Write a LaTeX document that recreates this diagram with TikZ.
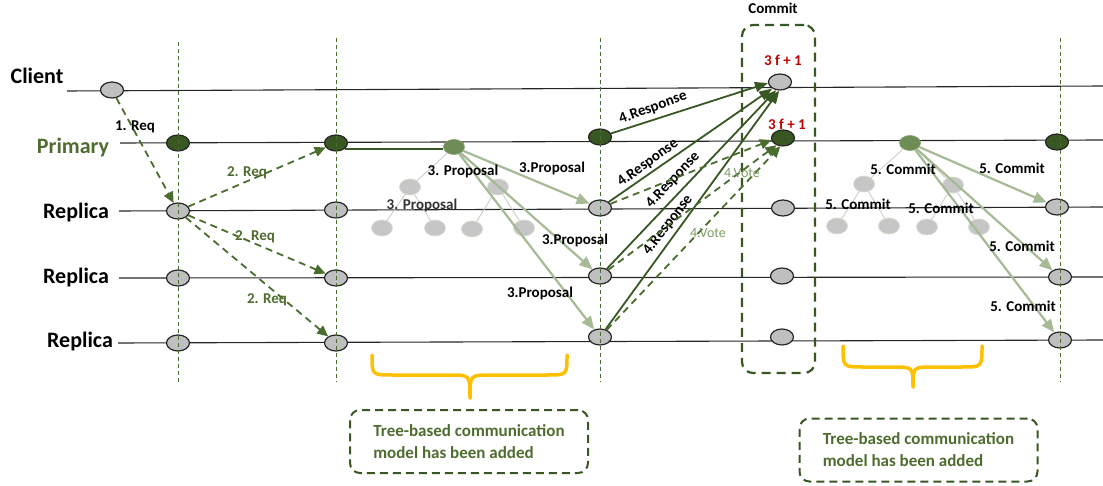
\documentclass[tikz,border=0pt]{standalone}
\usepackage{fontspec}
\setmainfont{Carlito}
\usetikzlibrary{shapes.geometric,arrows.meta}
\definecolor{dkgreen}{RGB}{56,87,35}
\definecolor{lblgreen}{RGB}{78,108,46}
\definecolor{dashgreen}{RGB}{74,108,44}
\definecolor{propgreen}{RGB}{166,186,150}
\definecolor{rootgreen}{RGB}{110,140,85}
\definecolor{nodegray}{RGB}{191,191,191}
\definecolor{fadegray}{RGB}{198,198,198}
\definecolor{fadeedge}{RGB}{214,222,206}
\definecolor{votegreen}{RGB}{125,155,100}
\definecolor{braceyellow}{RGB}{255,192,0}
\definecolor{redtxt}{RGB}{192,0,0}
\tikzset{
  timeline/.style={draw=black!85, line width=1.1pt},
  proc/.style={ellipse, draw=black!85, line width=1.2pt, fill=nodegray,
    minimum width=23pt, minimum height=16pt, inner sep=0pt},
  prim/.style={proc, fill=dkgreen},
  troot/.style={ellipse, fill=rootgreen, draw=rootgreen!85, line width=0.6pt,
    minimum width=21pt, minimum height=15pt, inner sep=0pt},
  tnode/.style={ellipse, fill=fadegray, draw=fadeedge, line width=0.8pt,
    minimum width=21pt, minimum height=16pt, inner sep=0pt},
  tedge/.style={draw=fadeedge!80!gray, line width=0.8pt},
  guide/.style={draw=dashgreen, line width=0.8pt, dash pattern=on 4pt off 3pt},
  reqarrow/.style={draw=dashgreen, line width=1.8pt, dash pattern=on 7pt off 5pt,
    -{Triangle[length=11pt,width=10pt]}},
  proparrow/.style={draw=propgreen, line width=2.2pt,
    -{Triangle[length=13pt,width=11pt]}},
  resparrow/.style={draw=dkgreen, line width=1.8pt,
    -{Triangle[length=13pt,width=10pt]}},
  rowlbl/.style={font=\bfseries\fontsize{22}{26}\selectfont},
  msg/.style={font=\bfseries\fontsize{15}{18}\selectfont, inner sep=1pt},
  greenmsg/.style={msg, text=lblgreen},
  votelbl/.style={font=\fontsize{14}{17}\selectfont, text=votegreen, inner sep=1pt},
  quorum/.style={msg, text=redtxt},
  brace/.style={draw=braceyellow, line width=3.5pt, line cap=round},
  notebox/.style={draw=dkgreen, line width=2pt, dash pattern=on 8pt off 5pt,
    rounded corners=10pt, align=left, text=lblgreen,
    font=\bfseries\fontsize{17}{22}\selectfont, inner xsep=18pt,
    minimum width=238pt, minimum height=63pt},
}
\begin{document}
\begin{tikzpicture}[x=1pt,y=-1pt]
\useasboundingbox (0,0) rectangle (1103,486);

% row labels
\node[rowlbl] (lclient) at (37,76) {Client};
\node[rowlbl, text=lblgreen] (lprim) at (73,148) {Primary};
\node[rowlbl] (lrep1) at (76,213) {Replica};
\node[rowlbl] (lrep2) at (76,278) {Replica};
\node[rowlbl] (lrep3) at (80,342) {Replica};

% time lines
\coordinate (tc0) at (67,91);   \coordinate (tc1) at (1103,86);
\coordinate (tp0) at (120,143); \coordinate (tp1) at (1103,140);
\coordinate (ta0) at (119,211); \coordinate (ta1) at (1103,207);
\coordinate (tb0) at (119,278); \coordinate (tb1) at (1103,277);
\coordinate (td0) at (118,343); \coordinate (td1) at (1103,340);
\draw[timeline] (tc0) -- (tc1);
\draw[timeline] (tp0) -- (tp1);
\draw[timeline] (ta0) -- (ta1);
\draw[timeline] (tb0) -- (tb1);
\draw[timeline] (td0) -- (td1);

% commit window
\node[draw=dkgreen, line width=2.2pt, dash pattern=on 9pt off 6pt, rounded corners=11pt,
  minimum width=73pt, minimum height=348pt] (cbox) at (778.5,199) {};
\node[msg] (lcommit) at (773,8) {Commit};

% processes
\node[proc] (c0) at (112,90) {};
\node[prim] (pA) at (178,143) {};
\node[proc] (r1A) at (178,211) {};
\node[proc] (r2A) at (178,278) {};
\node[proc] (r3A) at (178,343) {};
\node[prim] (pB) at (336,143) {};
\node[proc] (r1B) at (336,210) {};
\node[proc] (r2B) at (336,278) {};
\node[proc] (r3B) at (336,343) {};
\node[prim] (pC) at (600,137) {};
\node[proc] (r1C) at (600,208) {};
\node[proc] (r2C) at (600,276) {};
\node[proc] (r3C) at (600,337) {};
\node[proc] (cD) at (780,82) {};
\node[prim] (pD) at (783,138) {};
\node[proc] (r1D) at (783,208) {};
\node[proc] (r2D) at (782,276) {};
\node[proc] (r3D) at (782,337) {};
\node[prim] (pE) at (1057,142) {};
\node[proc] (r1E) at (1057,207) {};
\node[proc] (r2E) at (1060,277) {};
\node[proc] (r3E) at (1060,340) {};

% phase guides
\foreach \gx/\gt in {178/42, 336/38, 600/38, 1060/38}
  \draw[guide] (\gx,\gt) -- (\gx,382);

% tree of the proposal phase
\node[tnode] (t1a) at (410,187) {};
\node[tnode] (t1b) at (498,187) {};
\node[tnode] (t1aa) at (382,228) {};
\node[tnode] (t1ab) at (435,228) {};
\node[tnode] (t1ba) at (472,229) {};
\node[tnode] (t1bb) at (524,228) {};
\node[troot] (t1) at (454,147) {};
\draw[tedge] (t1) -- (t1a); \draw[tedge] (t1) -- (t1b);
\draw[tedge] (t1a) -- (t1aa); \draw[tedge] (t1a) -- (t1ab);
\draw[tedge] (t1b) -- (t1ba); \draw[tedge] (t1b) -- (t1bb);

% tree of the commit phase
\node[tnode] (t2a) at (864,184) {};
\node[tnode] (t2b) at (953,185) {};
\node[tnode] (t2aa) at (837,226) {};
\node[tnode] (t2ab) at (889,226) {};
\node[tnode] (t2ba) at (927,227) {};
\node[tnode] (t2bb) at (979,227) {};
\node[troot] (t2) at (910,143) {};
\draw[tedge] (t2) -- (t2a); \draw[tedge] (t2) -- (t2b);
\draw[tedge] (t2a) -- (t2aa); \draw[tedge] (t2a) -- (t2ab);
\draw[tedge] (t2b) -- (t2ba); \draw[tedge] (t2b) -- (t2bb);

% 1. request
\draw[reqarrow] (c0) -- (r1A);
\node[msg] (l1) at (135,127) {1. Req};

% 2. request forwarding
\draw[reqarrow] (r1A) -- (pB);
\draw[reqarrow] (r1A) -- (r2B);
\draw[reqarrow] (r1A) -- (r3B);
\node[greenmsg] (l2a) at (247,173) {2. Req};
\node[greenmsg] (l2b) at (255,237) {2. Req};
\node[greenmsg] (l2c) at (267,300) {2. Req};

% primary hands over to the tree root
\draw[draw=dkgreen, line width=2pt] (pB.-35) -- (pB.-35 -| t1.west);

% 3. proposal
\draw[proparrow] (t1) -- (r1C);
\draw[proparrow] (t1) -- (r2C);
\draw[proparrow] (t1) -- (r3C);
\node[msg] (l3t) at (463,171) {3. Proposal};
\node[msg, text=black!80] (l3s) at (422,205) {3. Proposal};
\node[msg] (l3a) at (552,168) {3.Proposal};
\node[msg] (l3b) at (575,240) {3.Proposal};
\node[msg] (l3c) at (540,293) {3.Proposal};

% 4. responses to the client
\draw[resparrow] (pC) -- (cD.185);
\draw[resparrow] (r1C) -- (cD.220);
\draw[resparrow] (r2C) -- (cD.245);
\draw[resparrow] (r3C) -- (cD.265);
\node[msg, rotate=20] (l4a) at (653,108) {4.Response};
\node[msg, rotate=36] (l4b) at (648,163) {4.Response};
\node[msg, rotate=47] (l4c) at (673,180) {4.Response};
\node[msg, rotate=52] (l4d) at (668,225) {4.Response};

% 4. votes to the primary
\draw[reqarrow] (r1C) -- (pD.190);
\draw[reqarrow] (r2C) -- (pD.228);
\draw[reqarrow] (r3C) -- (pD.252);
\node[votelbl] (lv1) at (742,173) {4.Vote};
\node[votelbl] (lv2) at (708,233) {4.Vote};

% quorum marks
\node[quorum] (q1) at (783,60) {3 f + 1};
\node[quorum] (q2) at (787,124) {3 f + 1};

% 5. commit
\draw[proparrow] (t2) -- (r1E);
\draw[proparrow] (t2) -- (r2E);
\draw[proparrow] (t2) -- (r3E);
\node[msg] (l5t) at (903,169) {5. Commit};
\node[msg] (l5s1) at (858,204) {5. Commit};
\node[msg] (l5s2) at (941,208) {5. Commit};
\node[msg] (l5a) at (1012,168) {5. Commit};
\node[msg] (l5b) at (1022,246) {5. Commit};
\node[msg] (l5c) at (1023,306) {5. Commit};

% braces
\draw[brace] (372,355) .. controls (372,375) .. (392,375) -- (450,375)
  .. controls (470,375) .. (470,398);
\draw[brace] (470,398) .. controls (470,375) .. (490,375) -- (547,375)
  .. controls (567,375) .. (567,355);
\draw[brace] (843,346) .. controls (843,367) .. (863,367) -- (893,367)
  .. controls (913,367) .. (913,387);
\draw[brace] (913,387) .. controls (913,367) .. (933,367) -- (962,367)
  .. controls (982,367) .. (982,346);

% notes
\node[notebox] (note1) at (469,441.5) {Tree-based communication\\model has been added};
\node[notebox] (note2) at (918.5,450) {Tree-based communication\\model has been added};
\end{tikzpicture}
\end{document}
